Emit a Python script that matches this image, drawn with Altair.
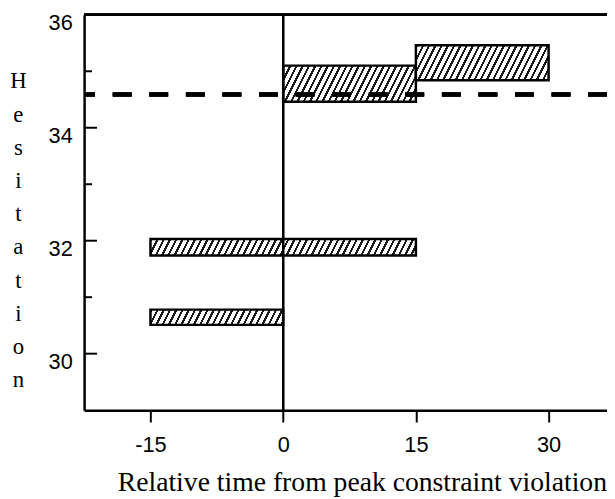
import altair as alt
import pandas as pd

# ---- data ----
bar_start = [0, 15, -15, -15]
bar_end = [15, 30, 15, 0]
bar_low = [34.46, 34.84, 31.74, 30.51]
bar_high = [35.10, 35.46, 32.03, 30.78]
threshold = 34.59
x_ticks = [-15, 0, 15, 30]
y_labels = [30, 32, 34, 36]
y_major = [30, 32, 34]
y_minor = [31, 33, 35]
x_title = "Relative time from peak constraint violation"
y_title = list("Hesitation")

# ---- layout ----
W, H = 529, 400
XD = [-22.5, 36.6]
YD = [29, 36]
px_x = W / (XD[1] - XD[0])
px_y = H / (YD[1] - YD[0])

bars = pd.DataFrame({"idx": range(4), "x0": bar_start, "x1": bar_end,
                     "y0": bar_low, "y1": bar_high})


def hatch(w, h, period_h=6.3, slope=2.0, dark=0.36):
    s = slope
    L = s * w + h
    n = L / (s * period_h)
    k = L / (w * h * (s * s / h ** 2 + 1 / w ** 2))
    stops = []
    i = 0
    while i < n:
        a = i / n
        b = min((i + dark) / n, 1)
        c = min((i + 1) / n, 1)
        stops += [{"offset": a, "color": "#1a1a1a"}, {"offset": b, "color": "#1a1a1a"},
                  {"offset": b, "color": "#ffffff"}, {"offset": c, "color": "#ffffff"}]
        i += 1
    return alt.LinearGradient(gradient="linear", x1=0, y1=0, x2=k * s / h, y2=k / w,
                              stops=stops)


xscale = alt.Scale(domain=XD, nice=False, zero=False)
yscale = alt.Scale(domain=YD, nice=False, zero=False)

xaxis = alt.Axis(values=x_ticks, grid=False, tickSize=12, tickWidth=2, tickColor="black",
                 domainColor="black", domainWidth=2.5,
                 labelFontSize=22, labelColor="black", labelPadding=13,
                 labelExpr="datum.value < 0 ? '-' + abs(datum.value) : '' + datum.value",
                 title=x_title, titleFontSize=28,
                 titleFontWeight="normal", titleColor="black", titleX=281, titleY=81,
                 titleAlign="center", titleBaseline="alphabetic")
yaxis = alt.Axis(values=y_labels, format="d", grid=False, ticks=False, tickSize=0,
                 domainColor="black", domainWidth=2.5,
                 labelFontSize=22, labelColor="black", labelPadding=12, labelOffset=8,
                 title=y_title, titleAngle=0,
                 titleFontSize=23, titleFontWeight="normal", titleColor="black",
                 titleX=-67, titleY=74, titleAlign="center", titleBaseline="alphabetic",
                 titleLineHeight=33.6)

layers = []
for i in range(4):
    w = (bar_end[i] - bar_start[i]) * px_x
    h = (bar_high[i] - bar_low[i]) * px_y
    layers.append(
        alt.Chart(bars).transform_filter(alt.datum.idx == i)
        .mark_rect(fill=hatch(w, h), stroke="black", strokeWidth=2.5)
        .encode(x=alt.X("x0:Q", scale=xscale, axis=xaxis), x2="x1:Q",
                y=alt.Y("y0:Q", scale=yscale, axis=yaxis), y2="y1:Q")
    )

zero_line = alt.Chart(bars).mark_rule(color="black", strokeWidth=2).encode(
    x=alt.X(datum=0, scale=xscale, axis=xaxis))
top_border = alt.Chart(bars).mark_rule(color="black", strokeWidth=2.5).encode(
    y=alt.Y(datum=36, scale=yscale, axis=yaxis))
major = alt.Chart(pd.DataFrame({"v": y_major})).mark_rule(color="black", strokeWidth=2).encode(
    y=alt.Y("v:Q", scale=yscale, axis=yaxis), x=alt.value(0), x2=alt.value(13))
minor = alt.Chart(pd.DataFrame({"v": y_minor})).mark_rule(color="black", strokeWidth=2).encode(
    y=alt.Y("v:Q", scale=yscale, axis=yaxis), x=alt.value(0), x2=alt.value(8))
dash = alt.Chart(bars).mark_rule(color="black", strokeWidth=4, strokeDash=[19, 18]).encode(
    y=alt.Y(datum=threshold, scale=yscale, axis=yaxis))

chart = alt.layer(*layers, zero_line, top_border, major, minor, dash).properties(
    width=W, height=H,
    padding={"left": 77, "top": 4, "right": 0, "bottom": 85},
    autosize=alt.AutoSizeParams(type="none"),
).configure_view(stroke=None).configure(background="white").configure_axis(
    labelFont="Liberation Sans", titleFont="Liberation Serif")

chart.save("out.html", embed_options={"renderer": "svg", "actions": False})
